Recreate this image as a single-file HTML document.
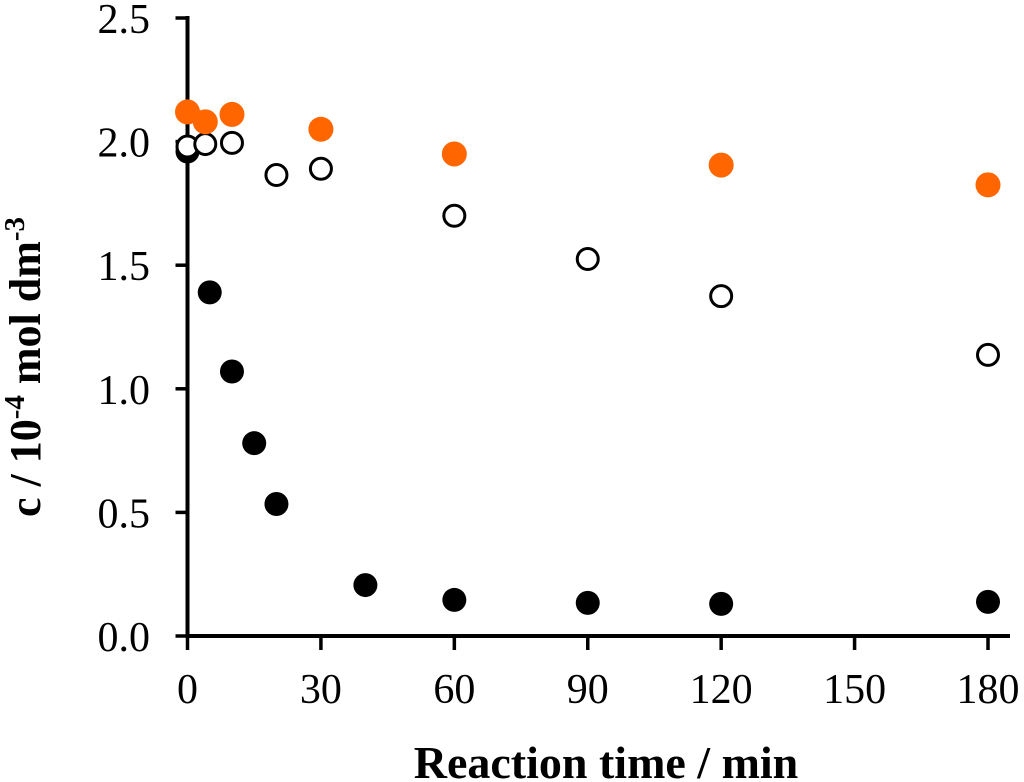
<!DOCTYPE html>
<html><head><meta charset="utf-8"><style>body{margin:0;background:#fff}svg{display:block}</style></head>
<body>
<svg id="chart" width="1024" height="782" xmlns="http://www.w3.org/2000/svg" font-family="Liberation Serif, serif">
<g id="axes"></g>
<g id="marks"></g>
<text transform="translate(40,367) rotate(-90)" text-anchor="middle" font-size="44" font-weight="bold">c / 10<tspan dy="-16" font-size="29">-4</tspan><tspan dy="16"> mol dm</tspan><tspan dy="-16" font-size="29">-3</tspan></text>
<text x="606" y="778" text-anchor="middle" font-size="46" font-weight="bold">Reaction time / min</text>
</svg>
<script>
const xTicks=[0,30,60,90,120,150,180];
const yTicks=[0,0.5,1.0,1.5,2.0,2.5];
const orangeT=[0,4,10,30,60,120,180];
const orangeC=[2.12,2.08,2.11,2.05,1.95,1.905,1.825];
const openT=[0,4,10,20,30,60,90,120,180];
const openC=[1.98,1.99,1.995,1.865,1.89,1.70,1.525,1.375,1.137];
const filledT=[0,5,10,15,20,40,60,90,120,180];
const filledC=[1.96,1.39,1.07,0.78,0.534,0.206,0.146,0.134,0.13,0.138];
const NS='http://www.w3.org/2000/svg';
const X=t=>187.5+t*(988-187.5)/180;
const Y=c=>636-c*(636-18)/2.5;
function mk(tag,attrs,parent){const e=document.createElementNS(NS,tag);for(const k in attrs)e.setAttribute(k,attrs[k]);parent.appendChild(e);return e;}
const ax=document.getElementById('axes'),mg=document.getElementById('marks');
let l=mk('line',{x1:X(0)-2,y1:Y(0),x2:1010,y2:Y(0),stroke:'#000','stroke-width':4},ax);


l=mk('line',{x1:X(0),y1:Y(0),x2:X(0),y2:Y(2.5)-2,stroke:'#000','stroke-width':4},ax);


xTicks.forEach(t=>{
 const k=mk('line',{x1:X(t),y1:Y(0),x2:X(t),y2:Y(0)+14,stroke:'#000','stroke-width':3.5},ax);
 
 
 const s=mk('text',{x:X(t),y:703,'text-anchor':'middle','font-size':42},ax);s.textContent=t;
 
 
});
yTicks.forEach(c=>{
 const k=mk('line',{x1:X(0)-12,y1:Y(c),x2:X(0),y2:Y(c),stroke:'#000','stroke-width':3.5},ax);
 
 
 const s=mk('text',{x:150,y:Y(c)+15,'text-anchor':'end','font-size':42},ax);s.textContent=c.toFixed(1);
 
 
});
filledT.forEach((t,i)=>{const p=mk('circle',{cx:X(t),cy:Y(filledC[i]),r:12,fill:'#000'},mg);
 
 });
openT.forEach((t,i)=>{const p=mk('circle',{cx:X(t),cy:Y(openC[i]),r:10.5,fill:'#fff',stroke:'#000','stroke-width':3},mg);
 
 });
orangeT.forEach((t,i)=>{const p=mk('circle',{cx:X(t),cy:Y(orangeC[i]),r:12.5,fill:'#ff6600'},mg);
 
 });
</script>
</body></html>
